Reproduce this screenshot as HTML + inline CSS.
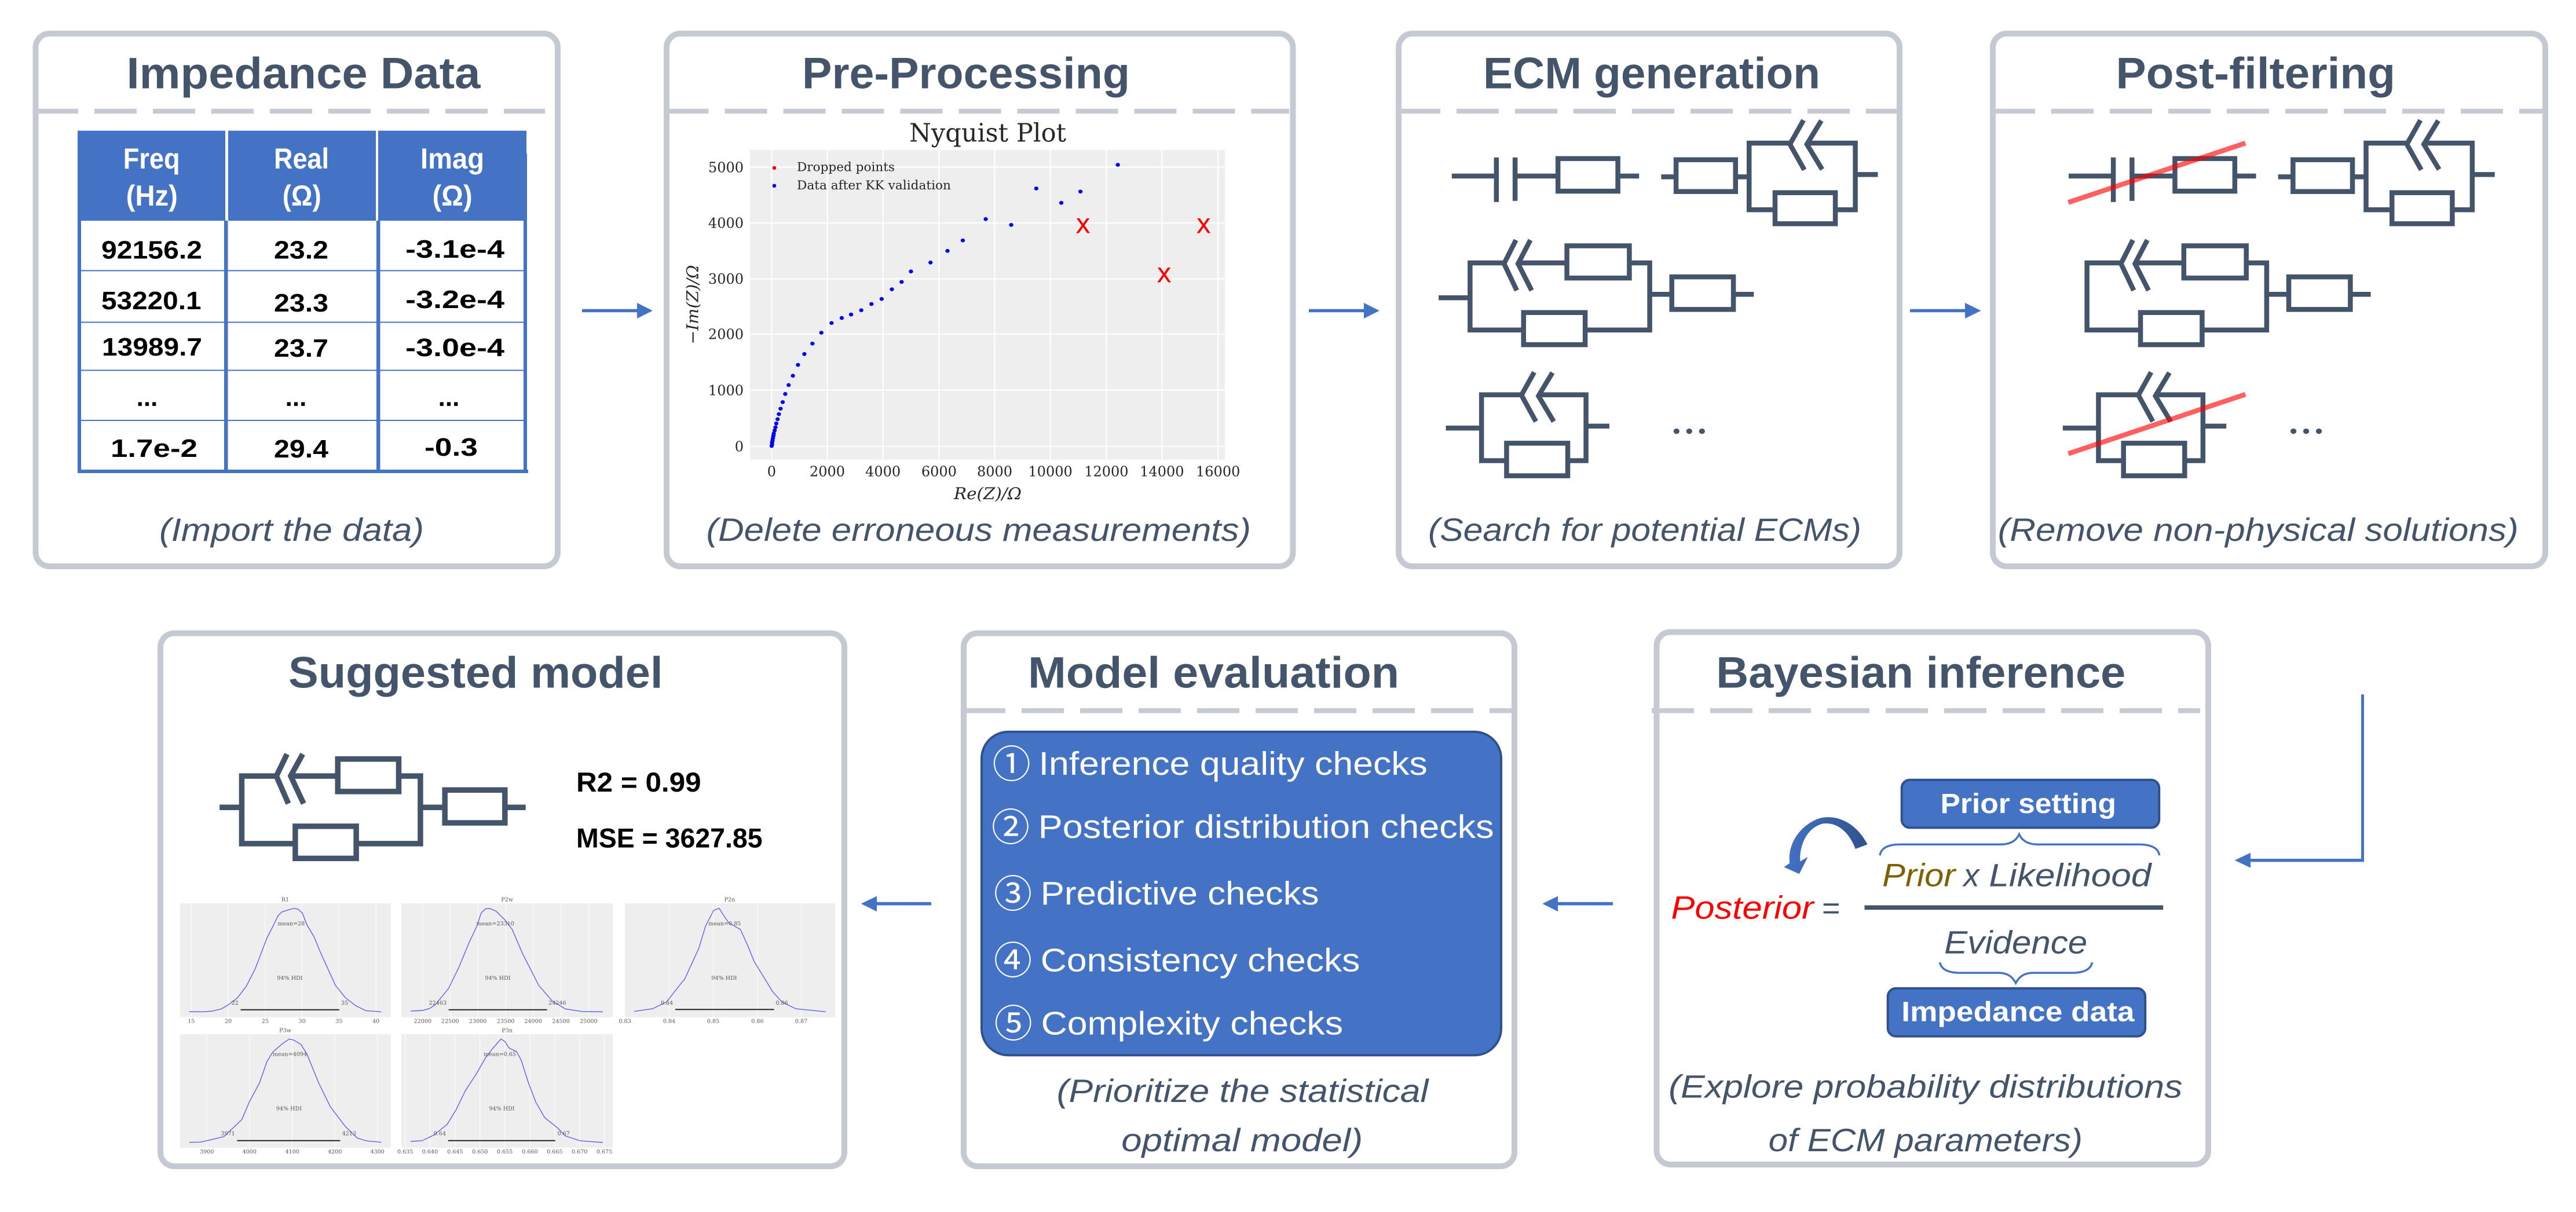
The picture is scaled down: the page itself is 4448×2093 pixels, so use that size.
<!DOCTYPE html>
<html><head><meta charset="utf-8"><style>
html,body{margin:0;padding:0;background:#fff}
svg{display:block}
.t{font:bold 76px "Liberation Sans",sans-serif;fill:#44546A}
.c{font:italic 56px "Liberation Sans",sans-serif;fill:#44546A}
.h{font:bold 50px "Liberation Sans",sans-serif;fill:#fff}
.d{font:bold 44px "Liberation Sans",sans-serif;fill:#000}
.p{fill:#fff;stroke:#C5C9D1;stroke-width:10}
.ds{stroke:#C6CAD2;stroke-width:8.5;stroke-dasharray:73 28;fill:none}
.s{font:24px "DejaVu Serif","Liberation Serif",serif;fill:#262626}
.k{font:9.6px "DejaVu Serif","Liberation Serif",serif;fill:#555;text-anchor:middle}
.l{font:57px "Liberation Sans",sans-serif;fill:#fff}
.n{font:66px "Noto Sans CJK JP","Liberation Sans",sans-serif;fill:#fff;text-anchor:middle}
.w{stroke:#44546A;stroke-width:8.5;fill:none}
.w path{vector-effect:non-scaling-stroke}
.kde{fill:none;stroke:#5F5FE6;stroke-width:1.4}
.kde polyline{vector-effect:non-scaling-stroke}
</style></head><body>
<svg xmlns="http://www.w3.org/2000/svg" width="4448" height="2093" viewBox="0 0 4448 2093">
<defs>
<linearGradient id="ga" x1="0" x2="1" y1="0" y2="0"><stop offset="0" stop-color="#4472C4"/><stop offset="1" stop-color="#2F528F"/></linearGradient>
<path id="c1" vector-effect="non-scaling-stroke" d="M282 454H382M387 406V521M431 406V518M431 454H532M532 409H673V493H532ZM673 454H723"/>
<path id="c2" vector-effect="non-scaling-stroke" d="M775 456H810M810 412H950V494H810ZM950 456H982M1043 541H982V369H1078M1110 310L1078 372L1112 438M1152 311L1118 372L1154 437M1118 369H1232V541H1185M1043 497H1185V577H1043ZM1232 450H1285"/>
<path id="c3" vector-effect="non-scaling-stroke" d="M451 851H325V678H405M433 619L405 680L435 749M467 619L438 680L470 749M438 678H553M553 634H700V717H553ZM700 678H748V851H596M451 806H596V889H451ZM748 759H800M800 714H945V798H800ZM945 759H993"/>
<path id="c4" vector-effect="non-scaling-stroke" d="M268 1104H352M411 1188H352V1018H446M476 960L446 1019L480 1087M519 961L486 1021L522 1087M486 1018H598V1188H555M598 1099H653M411 1143H555V1227H411Z"/>
</defs>
<rect width="4448" height="2093" fill="#fff"/>

<!-- Panels -->
<rect class="p" x="61.5" y="58" width="901.5" height="920" rx="24"/>
<rect class="p" x="1151" y="58" width="1081.5" height="920" rx="24"/>
<rect class="p" x="2415" y="58" width="865" height="920" rx="24"/>
<rect class="p" x="3441" y="58" width="954" height="920" rx="24"/>
<rect class="p" x="277" y="1093.5" width="1181" height="920.5" rx="24"/>
<rect class="p" x="1664" y="1093.5" width="951" height="920.5" rx="24"/>
<rect class="p" x="2860.5" y="1091.5" width="952.5" height="919.5" rx="24"/>

<path class="ds" d="M62 192H941"/>
<path class="ds" d="M1150.5 192H2226"/>
<path class="ds" d="M2414 192H3277"/>
<path class="ds" d="M3441 192H4390"/>
<path class="ds" d="M1663 1227.2H2610"/>
<path class="ds" d="M2852 1227.2H3799"/>

<!-- Titles -->
<text class="t" x="218.5" y="152.7" textLength="611" lengthAdjust="spacingAndGlyphs">Impedance Data</text>
<text class="t" x="1385" y="152.7" textLength="566" lengthAdjust="spacingAndGlyphs">Pre-Processing</text>
<text class="t" x="2561" y="152.7" textLength="582" lengthAdjust="spacingAndGlyphs">ECM generation</text>
<text class="t" x="3653.5" y="152.7" textLength="482.5" lengthAdjust="spacingAndGlyphs">Post-filtering</text>
<text class="t" x="498" y="1187.4" textLength="646.5" lengthAdjust="spacingAndGlyphs">Suggested model</text>
<text class="t" x="1775" y="1187.4" textLength="641" lengthAdjust="spacingAndGlyphs">Model evaluation</text>
<text class="t" x="2963.3" y="1187.4" textLength="707" lengthAdjust="spacingAndGlyphs">Bayesian inference</text>

<!-- Captions -->
<text class="c" x="275" y="934" textLength="457" lengthAdjust="spacingAndGlyphs">(Import the data)</text>
<text class="c" x="1219.5" y="934" textLength="940.5" lengthAdjust="spacingAndGlyphs">(Delete erroneous measurements)</text>
<text class="c" x="2466" y="934" textLength="748" lengthAdjust="spacingAndGlyphs">(Search for potential ECMs)</text>
<text class="c" x="3449.6" y="934" textLength="899" lengthAdjust="spacingAndGlyphs">(Remove non-physical solutions)</text>
<text class="c" x="1824.7" y="1903.2" textLength="641.7" lengthAdjust="spacingAndGlyphs">(Prioritize the statistical</text>
<text class="c" x="1936.3" y="1988" textLength="416.9" lengthAdjust="spacingAndGlyphs">optimal model)</text>
<text class="c" x="2881.2" y="1895.3" textLength="887.2" lengthAdjust="spacingAndGlyphs">(Explore probability distributions</text>
<text class="c" x="3053.7" y="1988" textLength="542.2" lengthAdjust="spacingAndGlyphs">of ECM parameters)</text>

<!-- Table -->
<g fill="#4472C4">
<rect x="134" y="225.7" width="255" height="155.5"/>
<rect x="394" y="225.7" width="255" height="155.5"/>
<rect x="653" y="225.7" width="256" height="155.5"/>
<rect x="134" y="381" width="6" height="433"/>
<rect x="387" y="381" width="6.5" height="433"/>
<rect x="650" y="381" width="6.5" height="433"/>
<rect x="904" y="265" width="6" height="549"/>
<rect x="134" y="811" width="778" height="6"/>
<rect x="134" y="466.4" width="772" height="2"/>
<rect x="134" y="555.5" width="772" height="2"/>
<rect x="134" y="638.5" width="772" height="2"/>
<rect x="134" y="725" width="772" height="2"/>
</g>
<text class="h" x="212.7" y="291" textLength="98" lengthAdjust="spacingAndGlyphs">Freq</text>
<text class="h" x="217.8" y="355" textLength="89" lengthAdjust="spacingAndGlyphs">(Hz)</text>
<text class="h" x="473" y="291" textLength="95" lengthAdjust="spacingAndGlyphs">Real</text>
<text class="h" x="487.7" y="355" textLength="67" lengthAdjust="spacingAndGlyphs">(Ω)</text>
<text class="h" x="726" y="291" textLength="110" lengthAdjust="spacingAndGlyphs">Imag</text>
<text class="h" x="746.6" y="355" textLength="69" lengthAdjust="spacingAndGlyphs">(Ω)</text>

<text class="d" x="175" y="446.6" textLength="174" lengthAdjust="spacingAndGlyphs">92156.2</text>
<text class="d" x="473" y="446.6" textLength="94" lengthAdjust="spacingAndGlyphs">23.2</text>
<text class="d" x="700" y="445" textLength="171" lengthAdjust="spacingAndGlyphs">-3.1e-4</text>
<text class="d" x="175" y="534" textLength="172.5" lengthAdjust="spacingAndGlyphs">53220.1</text>
<text class="d" x="473" y="538" textLength="94" lengthAdjust="spacingAndGlyphs">23.3</text>
<text class="d" x="700" y="532" textLength="171" lengthAdjust="spacingAndGlyphs">-3.2e-4</text>
<text class="d" x="176" y="614" textLength="173" lengthAdjust="spacingAndGlyphs">13989.7</text>
<text class="d" x="473" y="616" textLength="94" lengthAdjust="spacingAndGlyphs">23.7</text>
<text class="d" x="700" y="615" textLength="171" lengthAdjust="spacingAndGlyphs">-3.0e-4</text>
<text class="d" x="254" y="701" text-anchor="middle">...</text>
<text class="d" x="511" y="701" text-anchor="middle">...</text>
<text class="d" x="775" y="701" text-anchor="middle">...</text>
<text class="d" x="191" y="789" textLength="150" lengthAdjust="spacingAndGlyphs">1.7e-2</text>
<text class="d" x="473" y="790" textLength="94" lengthAdjust="spacingAndGlyphs">29.4</text>
<text class="d" x="733" y="787" textLength="92" lengthAdjust="spacingAndGlyphs">-0.3</text>

<!-- Arrows -->
<g fill="#4472C4">
<path d="M1005 533.7H1100V523L1127 536.5L1100 550V539.3H1005Z"/>
<path d="M2260 533.7H2355V523L2382 536.5L2355 550V539.3H2260Z"/>
<path d="M3298 533.7H3393V523L3420.6 536.5L3393 550V539.3H3298Z"/>
<path d="M1608 1557.8H1514V1547.5L1486.7 1560.6L1514 1574V1563.4H1608Z"/>
<path d="M2785 1557.8H2690V1547.5L2663.3 1560.6L2690 1574V1563.4H2785Z"/>
<path d="M4077 1199.2H4082V1488.4H3886V1498.6L3858.7 1485.6L3886 1472.6V1483H4077Z"/>
</g>

<!-- Nyquist -->
<text x="1570" y="244.4" font-family="DejaVu Serif,Liberation Serif,serif" font-size="43.5" fill="#262626" textLength="271" lengthAdjust="spacingAndGlyphs">Nyquist Plot</text>
<rect x="1295" y="259" width="820" height="534.6" fill="#EEEEEE"/>
<g stroke="#fff" stroke-width="2.2">
<path d="M1295 288.6H2115M1295 385H2115M1295 481.5H2115M1295 577H2115M1295 673.6H2115M1295 770.8H2115"/>
<path d="M1332.4 259V793.6M1428.5 259V793.6M1524.6 259V793.6M1621.4 259V793.6M1717.5 259V793.6M1813.6 259V793.6M1910.4 259V793.6M2006.4 259V793.6M2103.2 259V793.6"/>
</g>
<g class="s" text-anchor="end">
<text class="s" x="1284" y="297.3">5000</text>
<text class="s" x="1284" y="393.7">4000</text>
<text class="s" x="1284" y="490.2">3000</text>
<text class="s" x="1284" y="585.7">2000</text>
<text class="s" x="1284" y="682.3">1000</text>
<text class="s" x="1284" y="779.5">0</text>
</g>
<g class="s" text-anchor="middle">
<text class="s" x="1332.4" y="822.3">0</text>
<text class="s" x="1428.5" y="822.3">2000</text>
<text class="s" x="1524.6" y="822.3">4000</text>
<text class="s" x="1621.4" y="822.3">6000</text>
<text class="s" x="1717.5" y="822.3">8000</text>
<text class="s" x="1813.6" y="822.3">10000</text>
<text class="s" x="1910.4" y="822.3">12000</text>
<text class="s" x="2006.4" y="822.3">14000</text>
<text class="s" x="2103.2" y="822.3">16000</text>
</g>
<text x="1647" y="862" font-family="DejaVu Serif,Liberation Serif,serif" font-style="italic" font-size="28" fill="#262626" textLength="117" lengthAdjust="spacingAndGlyphs">Re(Z)/Ω</text>
<text transform="translate(1205.5,594.6) rotate(-90)" font-family="DejaVu Serif,Liberation Serif,serif" font-style="italic" font-size="28" fill="#262626" textLength="137" lengthAdjust="spacingAndGlyphs">−Im(Z)/Ω</text>
<text x="1376" y="295.3" font-family="DejaVu Serif,Liberation Serif,serif" font-size="21" fill="#262626" textLength="169" lengthAdjust="spacingAndGlyphs">Dropped points</text>
<text x="1376" y="326.8" font-family="DejaVu Serif,Liberation Serif,serif" font-size="21" fill="#262626" textLength="266" lengthAdjust="spacingAndGlyphs">Data after KK validation</text>
<circle cx="1337" cy="290" r="3.3" fill="#f00"/>
<circle cx="1337" cy="320.8" r="3.3" fill="#00f"/>
<g transform="translate(1130,0) scale(.73342,.66964)" fill="#0000F0">
<circle cx="1091" cy="425" r="5"/><circle cx="899" cy="486" r="5"/><circle cx="1003" cy="494" r="5"/><circle cx="958" cy="523" r="5"/><circle cx="780" cy="565" r="5"/><circle cx="840" cy="580" r="5"/><circle cx="726" cy="620" r="5"/><circle cx="690" cy="647" r="5"/><circle cx="650" cy="677" r="5"/><circle cx="604" cy="700" r="5"/><circle cx="582" cy="727" r="5"/><circle cx="559" cy="746" r="5"/><circle cx="535" cy="771" r="5"/><circle cx="511" cy="784" r="5"/><circle cx="487" cy="800" r="5"/><circle cx="463" cy="811" r="5"/><circle cx="441" cy="820" r="5"/><circle cx="417" cy="833" r="5"/><circle cx="393" cy="858" r="5"/><circle cx="372" cy="886" r="5"/><circle cx="353" cy="913" r="5"/><circle cx="338" cy="941" r="5"/><circle cx="326" cy="969" r="5"/><circle cx="316" cy="993" r="5"/><circle cx="308" cy="1016" r="5"/><circle cx="302" cy="1037" r="5"/><circle cx="297" cy="1054" r="5"/><circle cx="293" cy="1068" r="5"/><circle cx="290" cy="1081" r="5"/><circle cx="287" cy="1092" r="5"/><circle cx="285" cy="1102" r="5"/><circle cx="283" cy="1110" r="5"/><circle cx="281" cy="1118" r="5"/><circle cx="280" cy="1124" r="5"/><circle cx="279" cy="1130" r="5"/><circle cx="278" cy="1136" r="5"/><circle cx="277" cy="1141" r="5"/><circle cx="277" cy="1146" r="5"/><circle cx="276" cy="1150" r="5"/>
</g>
<g font-family="Liberation Sans,sans-serif" font-size="35" fill="#f00" stroke="#f00" stroke-width="1" text-anchor="middle">
<text x="1870" y="402">X</text><text x="2078.3" y="402">X</text><text x="2010" y="487">X</text>
</g>

<!-- ECM generation circuits -->
<g class="w" transform="translate(2300,0) scale(.73342,.66964)">
<use href="#c1"/><use href="#c2"/><use href="#c3"/><path d="M251 768H325"/><use href="#c4"/>
</g>
<g fill="#44546A" transform="translate(2300,0) scale(.73342,.66964)">
<circle cx="811" cy="1112" r="7"/><circle cx="841" cy="1112" r="7"/><circle cx="871" cy="1112" r="7"/>
</g>

<!-- Post-filtering circuits -->
<g class="w" transform="translate(3300,0) scale(.73342,.66964) translate(89,0)">
<use href="#c1"/><use href="#c2"/><use href="#c3"/><use href="#c4"/>
</g>
<g fill="#44546A" transform="translate(3300,0) scale(.73342,.66964) translate(89,0)">
<circle cx="811" cy="1112" r="7"/><circle cx="841" cy="1112" r="7"/><circle cx="871" cy="1112" r="7"/>
</g>
<g transform="translate(3300,0) scale(.73342,.66964)" stroke="#FF0000" stroke-opacity=".62" fill="none">
<path style="vector-effect:non-scaling-stroke" stroke-width="8.5" d="M370 522L787 369"/>
<path style="vector-effect:non-scaling-stroke" stroke-width="8.5" d="M370 1170L787 1017"/>
</g>

<!-- Suggested model circuit -->
<g class="w" style="stroke-width:9.5" transform="translate(250,1070) scale(.79719,.65242)">
<path style="stroke-width:9.5" d="M162 497H210M326 593H210V414H285M308 356L285 414L311 487M342 356L316 414L344 487M316 414H418M418 369H550V455H418ZM550 414H597V593H458M326 547H458V632H326ZM597 497H650M650 451H780V538H650ZM780 497H825"/>
</g>
<text x="995" y="1366.9" font-family="Liberation Sans,sans-serif" font-weight="bold" font-size="47" fill="#000" textLength="215.6" lengthAdjust="spacingAndGlyphs">R2 = 0.99</text>
<text x="995" y="1463.4" font-family="Liberation Sans,sans-serif" font-weight="bold" font-size="47" fill="#000" textLength="321.6" lengthAdjust="spacingAndGlyphs">MSE = 3627.85</text>

<!-- KDE plots -->
<g fill="#EEEEEE">
<rect x="311" y="1560" width="364" height="196.7"/>
<rect x="693" y="1560" width="365" height="196.7"/>
<rect x="1079" y="1560" width="363.6" height="196.7"/>
<rect x="311" y="1786" width="364" height="196"/>
<rect x="693" y="1786" width="365" height="196"/>
</g>
<g stroke="#fff" stroke-width="1">
<path d="M330.3 1560V1756.7M394.1 1560V1756.7M457.9 1560V1756.7M521.6 1560V1756.7M585.4 1560V1756.7M649.2 1560V1756.7"/>
<path d="M729.8 1560V1756.7M777.2 1560V1756.7M825.2 1560V1756.7M873.2 1560V1756.7M920.6 1560V1756.7M968.6 1560V1756.7M1016.5 1560V1756.7"/>
<path d="M1155.6 1560V1756.7M1231.4 1560V1756.7M1307.9 1560V1756.7M1383.6 1560V1756.7"/>
<path d="M357.3 1786V1982M430.8 1786V1982M504.8 1786V1982M578.3 1786V1982M651.7 1786V1982"/>
<path d="M699.7 1786V1982M742.5 1786V1982M785.9 1786V1982M828.8 1786V1982M871.6 1786V1982M915 1786V1982M957.9 1786V1982M1000.7 1786V1982M1043.6 1786V1982"/>
</g>
<g class="kde" transform="translate(290,1540) scale(.5102,.33333)">
<polyline points="72,621 120,622 150,618 180,607 205,585 235,550 265,490 295,400 320,300 335,240 355,180 372,125 385,105 405,95 425,86 440,90 455,110 470,170 495,235 515,310 540,395 567,485 600,548 635,590 670,616 722,622"/>
<polyline points="822,618 860,615 885,605 905,585 950,500 985,390 1020,260 1045,180 1060,110 1075,88 1090,87 1110,100 1140,145 1165,195 1200,320 1230,410 1255,485 1300,565 1345,607 1400,620 1472,622"/>
<polyline points="72,1298 110,1297 150,1283 190,1268 250,1180 275,1090 310,990 335,880 355,830 385,790 410,763 425,768 450,790 470,840 510,990 550,1115 600,1215 640,1275 670,1290 722,1298"/>
<polyline points="822,1293 860,1290 900,1260 945,1205 975,1130 1005,1035 1045,940 1075,860 1100,810 1127,763 1140,775 1155,810 1180,828 1195,870 1220,990 1245,1090 1275,1170 1320,1225 1345,1265 1395,1290 1472,1299"/>
</g>
<g class="kde" transform="translate(250,1070) scale(.79719,.65242)">
<polyline points="1060,1037 1100,1030 1130,1012 1170,950 1200,870 1215,810 1232,770 1244,764 1255,785 1265,803 1290,820 1305,860 1320,905 1335,935 1360,985 1380,1012 1410,1030 1475,1038"/>
</g>
<g stroke="#222" stroke-width="2">
<path d="M415.5 1743.7H586M774.7 1743.7H944.6M1166 1743.2H1336.6M409.4 1969.7H587.4M773.7 1969.7H958.9"/>
</g>
<text class="k" x="492.5" y="1556.7">R1</text>
<text class="k" x="330.3" y="1766.3">15</text><text class="k" x="394.1" y="1766.3">20</text><text class="k" x="457.9" y="1766.3">25</text><text class="k" x="521.6" y="1766.3">30</text><text class="k" x="585.4" y="1766.3">35</text><text class="k" x="649.2" y="1766.3">40</text>
<text class="k" x="502.8" y="1598">mean=28</text><text class="k" x="500.5" y="1692">94% HDI</text><text class="k" x="405.8" y="1735">22</text><text class="k" x="595.1" y="1735">35</text>
<text class="k" x="875.7" y="1556.7">P2w</text>
<text class="k" x="729.8" y="1766.3">22000</text><text class="k" x="777.2" y="1766.3">22500</text><text class="k" x="825.2" y="1766.3">23000</text><text class="k" x="873.2" y="1766.3">23500</text><text class="k" x="920.6" y="1766.3">24000</text><text class="k" x="968.6" y="1766.3">24500</text><text class="k" x="1016.5" y="1766.3">25000</text>
<text class="k" x="855.3" y="1598">mean=23310</text><text class="k" x="859.4" y="1692">94% HDI</text><text class="k" x="755.8" y="1735">22463</text><text class="k" x="962.4" y="1735">24246</text>
<text class="k" x="1260" y="1556.7">P2n</text>
<text class="k" x="1079" y="1766.3">0.83</text><text class="k" x="1155.6" y="1766.3">0.84</text><text class="k" x="1231.4" y="1766.3">0.85</text><text class="k" x="1307.9" y="1766.3">0.86</text><text class="k" x="1383.6" y="1766.3">0.87</text>
<text class="k" x="1251.3" y="1598">mean=0.85</text><text class="k" x="1250.5" y="1692">94% HDI</text><text class="k" x="1151.6" y="1735">0.84</text><text class="k" x="1350.1" y="1735">0.86</text>
<text class="k" x="492.5" y="1782.3">P3w</text>
<text class="k" x="357.3" y="1992">3900</text><text class="k" x="430.8" y="1992">4000</text><text class="k" x="504.8" y="1992">4100</text><text class="k" x="578.3" y="1992">4200</text><text class="k" x="651.7" y="1992">4300</text>
<text class="k" x="500.5" y="1823.7">mean=4094</text><text class="k" x="498.9" y="1917.3">94% HDI</text><text class="k" x="393.6" y="1960.7">3971</text><text class="k" x="602.8" y="1960.7">4213</text>
<text class="k" x="875.7" y="1782.3">P3n</text>
<text class="k" x="699.7" y="1992">0.635</text><text class="k" x="742.5" y="1992">0.640</text><text class="k" x="785.9" y="1992">0.645</text><text class="k" x="828.8" y="1992">0.650</text><text class="k" x="871.6" y="1992">0.655</text><text class="k" x="915" y="1992">0.660</text><text class="k" x="957.9" y="1992">0.665</text><text class="k" x="1000.7" y="1992">0.670</text><text class="k" x="1043.6" y="1992">0.675</text>
<text class="k" x="863" y="1823.7">mean=0.65</text><text class="k" x="866.5" y="1917.3">94% HDI</text><text class="k" x="759.4" y="1960.7">0.64</text><text class="k" x="973.2" y="1960.7">0.67</text>

<!-- Model evaluation list -->
<rect x="1695" y="1263.8" width="897" height="558.4" rx="46" fill="#4472C4" stroke="#2F528F" stroke-width="4"/>
<text class="n" x="1746.6" y="1343">①</text>
<text class="n" x="1745" y="1452">②</text>
<text class="n" x="1749" y="1567">③</text>
<text class="n" x="1749" y="1682">④</text>
<text class="n" x="1749.7" y="1791">⑤</text>
<text class="l" x="1793.6" y="1338.1" textLength="671.2" lengthAdjust="spacingAndGlyphs">Inference quality checks</text>
<text class="l" x="1792.8" y="1447.1" textLength="786.8" lengthAdjust="spacingAndGlyphs">Posterior distribution checks</text>
<text class="l" x="1796.8" y="1561.9" textLength="480.7" lengthAdjust="spacingAndGlyphs">Predictive checks</text>
<text class="l" x="1796.8" y="1677.4" textLength="551.6" lengthAdjust="spacingAndGlyphs">Consistency checks</text>
<text class="l" x="1797.6" y="1786.4" textLength="521.4" lengthAdjust="spacingAndGlyphs">Complexity checks</text>

<!-- Bayesian -->
<rect x="3283.7" y="1346.7" width="444.5" height="82.7" rx="14" fill="#4472C4" stroke="#2F528F" stroke-width="4"/>
<text x="3350.5" y="1404" font-family="Liberation Sans,sans-serif" font-weight="bold" font-size="48" fill="#fff" textLength="303.5" lengthAdjust="spacingAndGlyphs">Prior setting</text>
<rect x="3259.7" y="1706.8" width="444.5" height="82.8" rx="14" fill="#4472C4" stroke="#2F528F" stroke-width="4"/>
<text x="3283.3" y="1763.5" font-family="Liberation Sans,sans-serif" font-weight="bold" font-size="48" fill="#fff" textLength="402.2" lengthAdjust="spacingAndGlyphs">Impedance data</text>
<g transform="translate(2800,1070) scale(.82908,.65242)" fill="none" stroke="#4472C4">
<path style="vector-effect:non-scaling-stroke" stroke-width="3.5" d="M538 624C540 605 555 595 580 595H790C810 595 822 585 828 568C834 585 846 595 866 595H1078C1103 595 1118 605 1120 624"/>
<path style="vector-effect:non-scaling-stroke" stroke-width="3.5" d="M663 907C665 925 680 935 705 935H785C805 935 815 947 821 962C827 947 837 935 857 935H938C963 935 978 925 980 907"/>
</g>
<path transform="translate(2800,1070) scale(.82908,.65242)" fill="url(#ga)" d="M512 595C490 540 450 515 415 525C375 540 345 590 350 645L338 655L370 673L388 628L372 640C370 600 385 550 420 540C450 535 475 565 487 607Z"/>
<text x="2885.4" y="1586.7" font-family="Liberation Sans,sans-serif" font-style="italic" font-size="56" fill="#FF0000" textLength="246.2" lengthAdjust="spacingAndGlyphs">Posterior</text>
<text x="3146" y="1586.7" font-family="Liberation Sans,sans-serif" font-size="54" fill="#44546A">=</text>
<rect x="3219.5" y="1563.4" width="515.7" height="7.6" fill="#44546A"/>
<text x="3250.2" y="1530.6" font-family="Liberation Sans,sans-serif" font-style="italic" font-size="56" fill="#7F6000" textLength="126" lengthAdjust="spacingAndGlyphs">Prior</text>
<text x="3390.3" y="1530.6" class="c" textLength="27.4" lengthAdjust="spacingAndGlyphs">x</text>
<text x="3434.3" y="1530.6" class="c" textLength="280.2" lengthAdjust="spacingAndGlyphs">Likelihood</text>
<text x="3357.1" y="1646.7" class="c" textLength="247.1" lengthAdjust="spacingAndGlyphs">Evidence</text>
</svg>
</body></html>
